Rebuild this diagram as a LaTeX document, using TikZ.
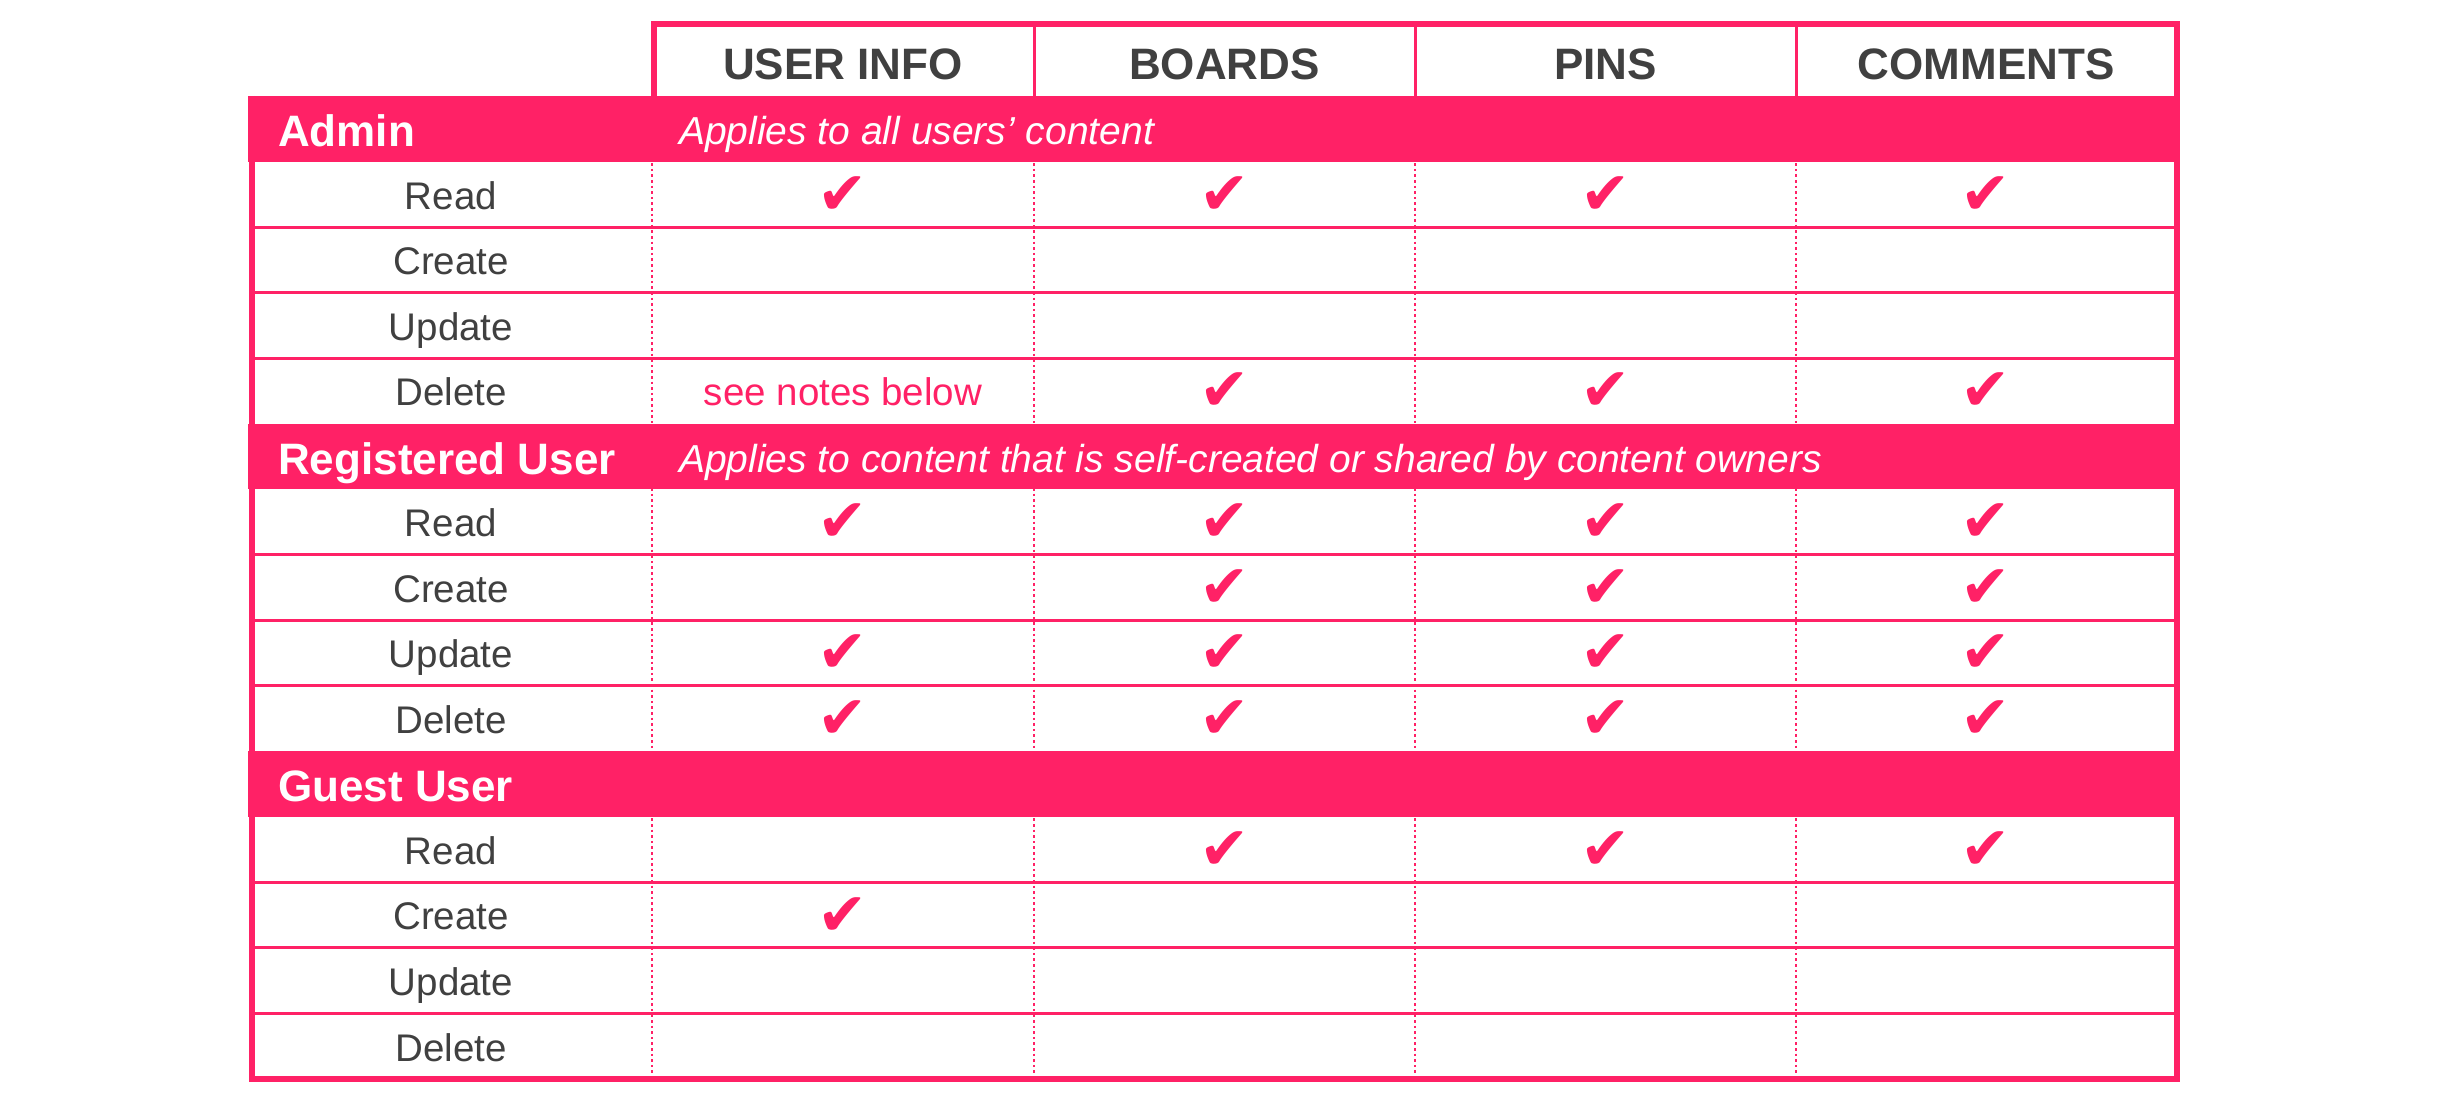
\documentclass[tikz,border=0pt]{standalone}
\usepackage{fontspec}
\setmainfont{Liberation Sans}
\newfontfamily\tickfont{DejaVu Sans}
\definecolor{rosa}{HTML}{FF2166}
\definecolor{ink}{HTML}{404040}
\tikzset{
  band/.style={fill=rosa, draw=none},
  rowline/.style={rosa, line width=3pt},
  dotline/.style={rosa, line width=2.6pt, dash pattern=on 2.6pt off 3pt},
  frame/.style={rosa, line width=6pt},
  colhead/.style={font=\fontsize{44}{44}\selectfont\bfseries, text=ink,
    text height=31.5pt, text depth=0pt, inner sep=0pt},
  grouphead/.style={font=\fontsize{44}{44}\selectfont\bfseries, text=white,
    anchor=west, text height=31.5pt, text depth=0pt, inner sep=0pt},
  groupnote/.style={font=\fontsize{39}{39}\selectfont\itshape, text=white,
    anchor=west, text height=28pt, text depth=0pt, inner sep=0pt},
  action/.style={font=\fontsize{38.5}{38.5}\selectfont, text=ink,
    text height=27.6pt, text depth=0pt, inner sep=0pt},
  tick/.style={font=\tickfont\fontsize{60}{60}\selectfont, text=rosa, inner sep=0pt},
}
\begin{document}
\begin{tikzpicture}[x=1pt, y=-1pt]
        \useasboundingbox (0,0) rectangle (2448,1110);
        % dotted column rules, under the bands
        \foreach \x in {652,1034,1415,1796}
          \draw [dotline] (\x,96) -- (\x,1079);
        % rules between the rows
        \foreach \y in {227.06,292.59,358.12,554.71,620.24,685.77,882.36,947.89,1013.42}
          \draw [rowline] (250,\y) -- (2177,\y);
        % group bands
        \fill [band] (248,96) rectangle (2180,161.53);
        \fill [band] (248,423.65) rectangle (2180,489.18);
        \fill [band] (248,751.3) rectangle (2180,816.83);
        % header and frame
        \foreach \x in {1034,1415,1796}
          \draw [rowline] (\x,24) -- (\x,96);
        \draw [frame] (251.5,96) -- (251.5,1079) -- (2176.5,1079) -- (2176.5,24) -- (654,24) -- (654,96);

        \node [colhead] (userinfo) at (843,64) {USER INFO};
        \node [colhead] (boards) at (1224.5,64) {BOARDS};
        \node [colhead] (pins) at (1605.5,64) {PINS};
        \node [colhead] (comments) at (1986,64) {COMMENTS};

        \node [grouphead] (admin) at (278,131) {Admin};
        \node [groupnote] (adminnote) at (679,131) {Applies to all users’ content};
        \node [grouphead] (registered) at (278,458.5) {Registered User};
        \node [groupnote] (registerednote) at (679,458.5) {Applies to content that is self-created or shared by content owners};
        \node [grouphead] (guest) at (278,786) {Guest User};

        \node [action] (aread) at (451,195.3) {Read};
        \node [action] (acreate) at (451,260.8) {Create};
        \node [action] (aupdate) at (451,326.4) {Update};
        \node [action] (adelete) at (451,391.9) {Delete};
        \node [action] (rread) at (451,522.9) {Read};
        \node [action] (rcreate) at (451,588.5) {Create};
        \node [action] (rupdate) at (451,654) {Update};
        \node [action] (rdelete) at (451,719.5) {Delete};
        \node [action] (gread) at (451,850.6) {Read};
        \node [action] (gcreate) at (451,916.1) {Create};
        \node [action] (gupdate) at (451,981.7) {Update};
        \node [action] (gdelete) at (451,1047.2) {Delete};

        \node [action, text=rosa] (notes) at (userinfo |- adelete) {see notes below};

        % check marks
        \foreach \c/\r in {userinfo/aread, boards/aread, pins/aread, comments/aread,
            boards/adelete, pins/adelete, comments/adelete,
            userinfo/rread, boards/rread, pins/rread, comments/rread,
            boards/rcreate, pins/rcreate, comments/rcreate,
            userinfo/rupdate, boards/rupdate, pins/rupdate, comments/rupdate,
            userinfo/rdelete, boards/rdelete, pins/rdelete, comments/rdelete,
            boards/gread, pins/gread, comments/gread,
            userinfo/gcreate}
          \node [tick] (tick-\c-\r) at (\c |- \r) {✔};
      \end{tikzpicture}
\end{document}
